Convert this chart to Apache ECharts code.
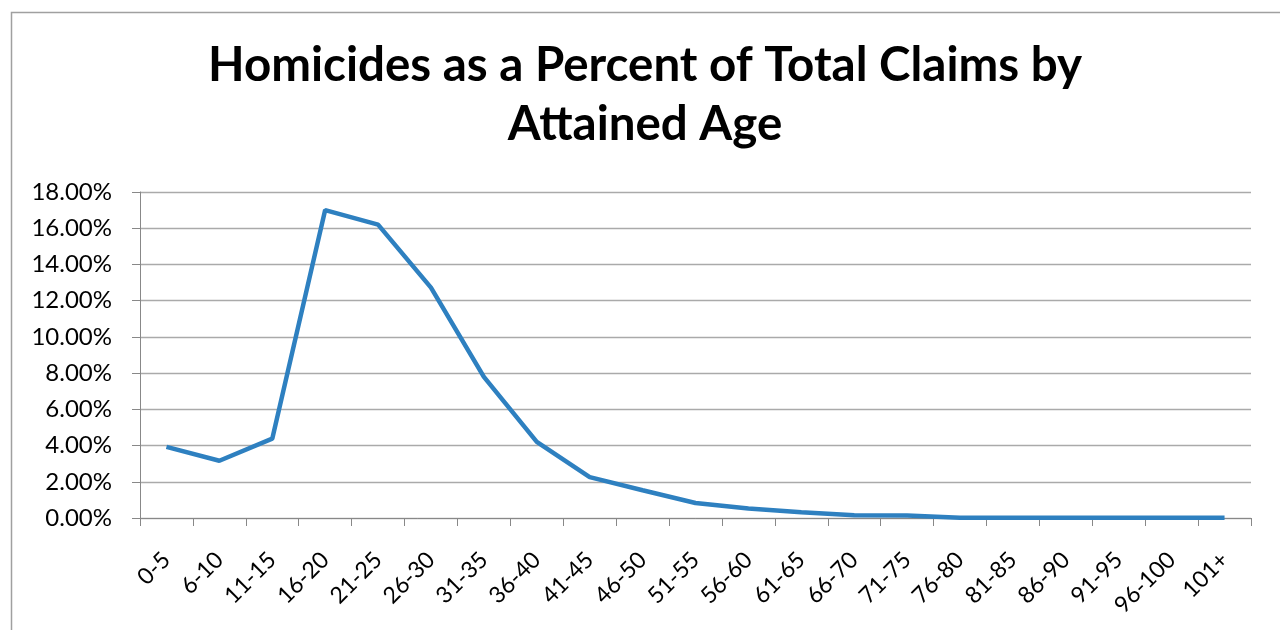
<!DOCTYPE html>
<html><head><meta charset="utf-8">
<script src="https://cdn.jsdelivr.net/npm/echarts@6/dist/echarts.min.js"></script>
<style>html,body{margin:0;padding:0;background:#fff}#c{width:1280px;height:630px}</style>
</head><body><div id="c"></div>
<script>
const categories = ['0-5','6-10','11-15','16-20','21-25','26-30','31-35','36-40','41-45','46-50','51-55','56-60','61-65','66-70','71-75','76-80','81-85','86-90','91-95','96-100','101+'];
const values = [3.93, 3.16, 4.38, 17.0, 16.2, 12.72, 7.79, 4.2, 2.26, 1.53, 0.83, 0.52, 0.32, 0.15, 0.14, 0.02, 0.01, 0.01, 0.01, 0.01, 0.01];
const yTicks = [0, 2, 4, 6, 8, 10, 12, 14, 16, 18];
const titleText = 'Homicides as a Percent of Total Claims by\nAttained Age';

const chart = echarts.init(document.getElementById('c'));
chart.setOption({
  animation: false,
  graphic: [{
    type: 'rect', left: 9, top: 10,
    shape: { width: 1300, height: 640 },
    style: { fill: 'none', stroke: '#a0a0a0', lineWidth: 1.5 }
  }],
  title: {
    text: titleText, left: 640, top: 31,
    textAlign: 'center',
    textStyle: { fontFamily: 'Lato', fontWeight: 'bold', fontSize: 47.5, lineHeight: 59, color: '#000' }
  },
  grid: { left: 140, right: 29, top: 192, bottom: 112 },
  xAxis: {
    type: 'category', data: categories, boundaryGap: true,
    axisLine: { lineStyle: { color: '#888', width: 1 } },
    axisTick: { show: true, length: 8, lineStyle: { color: '#888' }, alignWithLabel: false },
    axisLabel: { rotate: 45, interval: 0, fontFamily: 'Lato', fontSize: 23, color: '#000', margin: 38 }
  },
  yAxis: {
    type: 'value', min: 0, max: 18, interval: 2,
    axisLine: { show: true, lineStyle: { color: '#888' } },
    axisTick: { show: true, length: 8, inside: false, lineStyle: { color: '#888' } },
    splitLine: { lineStyle: { color: '#aaa', width: 1.3 } },
    axisLabel: { fontFamily: 'Lato', fontSize: 24, color: '#000', margin: 28,
      formatter: v => yTicks.includes(v) ? v.toFixed(2) + '%' : '' }
  },
  series: [{
    type: 'line', data: values, symbol: 'none',
    lineStyle: { color: '#2e80c0', width: 4.5 }
  }]
});
</script></body></html>
